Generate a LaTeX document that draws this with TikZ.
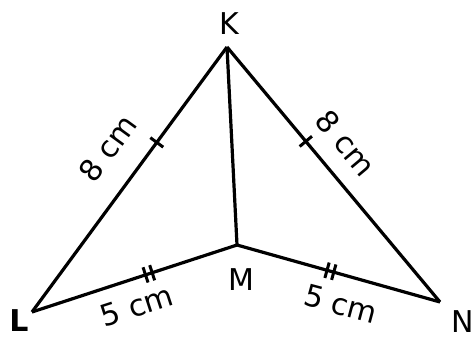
\documentclass[tikz,border=0pt]{standalone}
\usepackage{fontspec}
\setmainfont{DejaVu Sans}
\usetikzlibrary{decorations.markings}
\tikzset{
    side/.style={line width=3.2pt, line join=miter},
    one tick/.style={decoration={markings, mark=at position #1 with {\draw[line width=3pt] (0,-8pt) -- (0,8pt);}}, postaction=decorate},
    two ticks/.style={decoration={markings, mark=at position #1 with {\draw[line width=3pt] (-3.5pt,-8pt) -- (-3.5pt,8pt) (3.5pt,-8pt) -- (3.5pt,8pt);}}, postaction=decorate},
    label/.style={font=\fontsize{30}{32}\selectfont, inner sep=0pt}
}
\begin{document}
\begin{tikzpicture}[x=1pt, y=-1pt]
    \useasboundingbox (0,0) rectangle (476,339);
    % vertices
    \coordinate (K) at (227,47);
    \coordinate (L) at (32,312);
    \coordinate (M) at (237,245);
    \coordinate (N) at (440,302);

    % sides
    \draw[side, one tick=0.64] (L) -- (K);
    \draw[side, one tick=0.63] (N) -- (K);
    \draw[side, two ticks=0.57] (L) -- (M);
    \draw[side, two ticks=0.54] (N) -- (M);
    \draw[side] (K) -- (M);

    % vertex names
    \node[label] (k name) at (229,24) {K};
    \node[label] (l name) at (19,321) {\textbf{L}};
    \node[label] (m name) at (241,280) {M};
    \node[label] (n name) at (463,322) {N};

    % lengths
    \node[label, rotate=54] (lk len) at (108,148) {8 cm};
    \node[label, rotate=-50] (nk len) at (346,143) {8 cm};
    \node[label, rotate=18] (lm len) at (137,306) {5 cm};
    \node[label, rotate=-15] (nm len) at (341,304) {5 cm};
\end{tikzpicture}
\end{document}
